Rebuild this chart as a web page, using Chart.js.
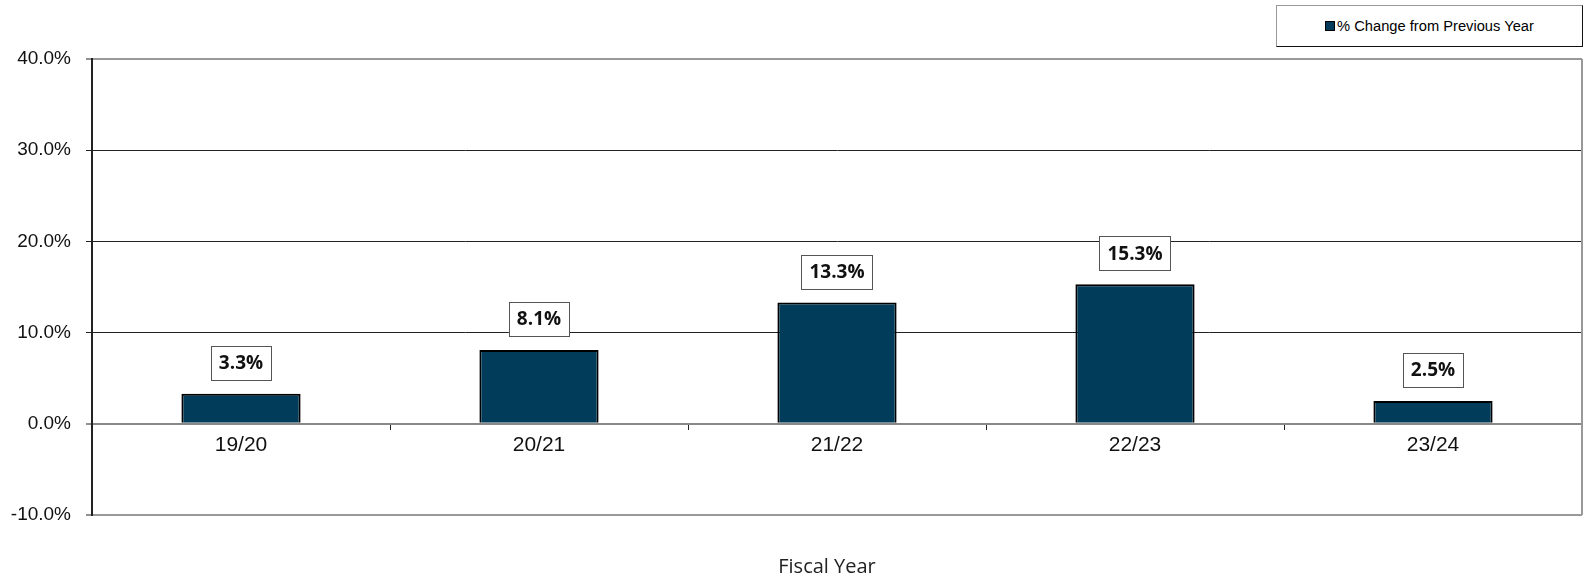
<!DOCTYPE html>
<html>
<head>
<meta charset="utf-8">
<script src="https://cdn.jsdelivr.net/npm/chart.js@4.4.1/dist/chart.umd.min.js"></script>
<style>
  body { margin: 0; background: #fff; }
  #wrap { position: relative; width: 1593px; height: 579px; }
  #legend {
    position: absolute; left: 1276px; top: 5px; width: 305px; height: 40px;
    border: 1px solid; border-color: #999 #111 #111 #999;
    display: flex; align-items: center; justify-content: center;
    font-family: 'Liberation Sans', Arial, sans-serif; font-size: 14.7px; color: #000;
    background: #fff;
  }
  #legend span.box {
    display: inline-block; width: 8px; height: 8px; margin-right: 2px;
    background: #023c5b; border: 1px solid #000;
  }
</style>
</head>
<body>
<div id="wrap">
  <canvas id="myChart"></canvas>
  <div id="legend"><span class="box"></span>% Change from Previous Year</div>
</div>
<script>
const years = ['19/20', '20/21', '21/22', '22/23', '23/24'];
const pctChange = [3.3, 8.1, 13.3, 15.3, 2.5];
const seriesName = '% Change from Previous Year';
const axisTitle = 'Fiscal Year';

const barColor = '#023c5b';

// value boxes above each bar
const valueBoxes = {
    id: 'valueBoxes',
    afterDatasetsDraw(chart) {
        const ctx = chart.ctx;
        const meta = chart.getDatasetMeta(0);
        ctx.save();
        ctx.font = 'bold 19px "Open Sans", sans-serif';
        ctx.textAlign = 'center';
        ctx.textBaseline = 'middle';
        meta.data.forEach((bar, i) => {
            const txt = pctChange[i].toFixed(1) + '%';
            const w = ctx.measureText(txt).width + 16;
            const h = 34;
            const bottom = bar.y - 14;
            ctx.fillStyle = '#fff';
            ctx.fillRect(bar.x - w / 2, bottom - h, w, h);
            ctx.strokeStyle = '#555';
            ctx.lineWidth = 1;
            ctx.strokeRect(Math.round(bar.x - w / 2) + 0.5, Math.round(bottom - h) + 0.5, Math.round(w), h);
            ctx.fillStyle = '#111';
            ctx.fillText(txt, bar.x, bottom - h / 2 + 1);
        });
        ctx.restore();
    }
};

// right frame edge and the x axis title
const frame = {
    id: 'frame',
    afterDraw(chart) {
        const ctx = chart.ctx;
        const a = chart.chartArea;
        ctx.save();
        ctx.strokeStyle = '#999';
        ctx.lineWidth = 2;
        ctx.beginPath();
        ctx.moveTo(a.right, a.top);
        ctx.lineTo(a.right, a.bottom);
        ctx.stroke();
        ctx.fillStyle = '#222';
        ctx.font = '20px "Open Sans", sans-serif';
        ctx.textAlign = 'center';
        ctx.textBaseline = 'alphabetic';
        ctx.fillText(axisTitle, (a.left + a.right) / 2 - 10, 573);
        ctx.restore();
    }
};

const ctx = document.getElementById('myChart').getContext('2d');
const myChart = new Chart(ctx, {
    type: 'bar',
    data: {
        labels: years,
        datasets: [{
            label: seriesName,
            data: pctChange,
            backgroundColor: barColor,
            borderColor: '#000',
            borderWidth: 2,
            barPercentage: 0.4,
            categoryPercentage: 1.0
        }]
    },
    options: {
        responsive: true,
        maintainAspectRatio: false,
        animation: false,
        layout: { padding: { top: 59, right: 11, left: 0, bottom: 64 } },
        plugins: {
            legend: { display: false },
            tooltip: { enabled: false }
        },
        scales: {
            x: {
                position: { y: 0 },
                afterFit(scale) { scale.height = 0; },
                grid: {
                    offset: true,
                    drawOnChartArea: false,
                    drawTicks: true,
                    tickLength: 6,
                    tickColor: '#222',
                    tickWidth: 1
                },
                border: { display: false },
                ticks: {
                    color: '#111',
                    padding: 3,
                    font: { family: '"Liberation Sans", Arial, sans-serif', size: 21 }
                }
            },
            y: {
                min: -10,
                max: 40,
                afterFit(scale) { scale.width = 92; },
                ticks: {
                    stepSize: 10,
                    color: '#111',
                    padding: 15,
                    font: { family: '"Liberation Sans", Arial, sans-serif', size: 19 },
                    callback: (v) => v.toFixed(1) + '%'
                },
                grid: {
                    color: (c) => {
                        const v = c.tick ? c.tick.value : null;
                        if (v === 40 || v === -10) return '#999';
                        if (v === 0) return '#888';
                        return '#222';
                    },
                    lineWidth: (c) => {
                        const v = c.tick ? c.tick.value : null;
                        return (v === 40 || v === -10 || v === 0) ? 2 : 1;
                    },
                    tickLength: 6,
                    tickColor: '#222',
                    tickWidth: 1
                },
                border: { display: true, color: '#222', width: 2 }
            }
        }
    },
    plugins: [valueBoxes, frame]
});
</script>
</body>
</html>
